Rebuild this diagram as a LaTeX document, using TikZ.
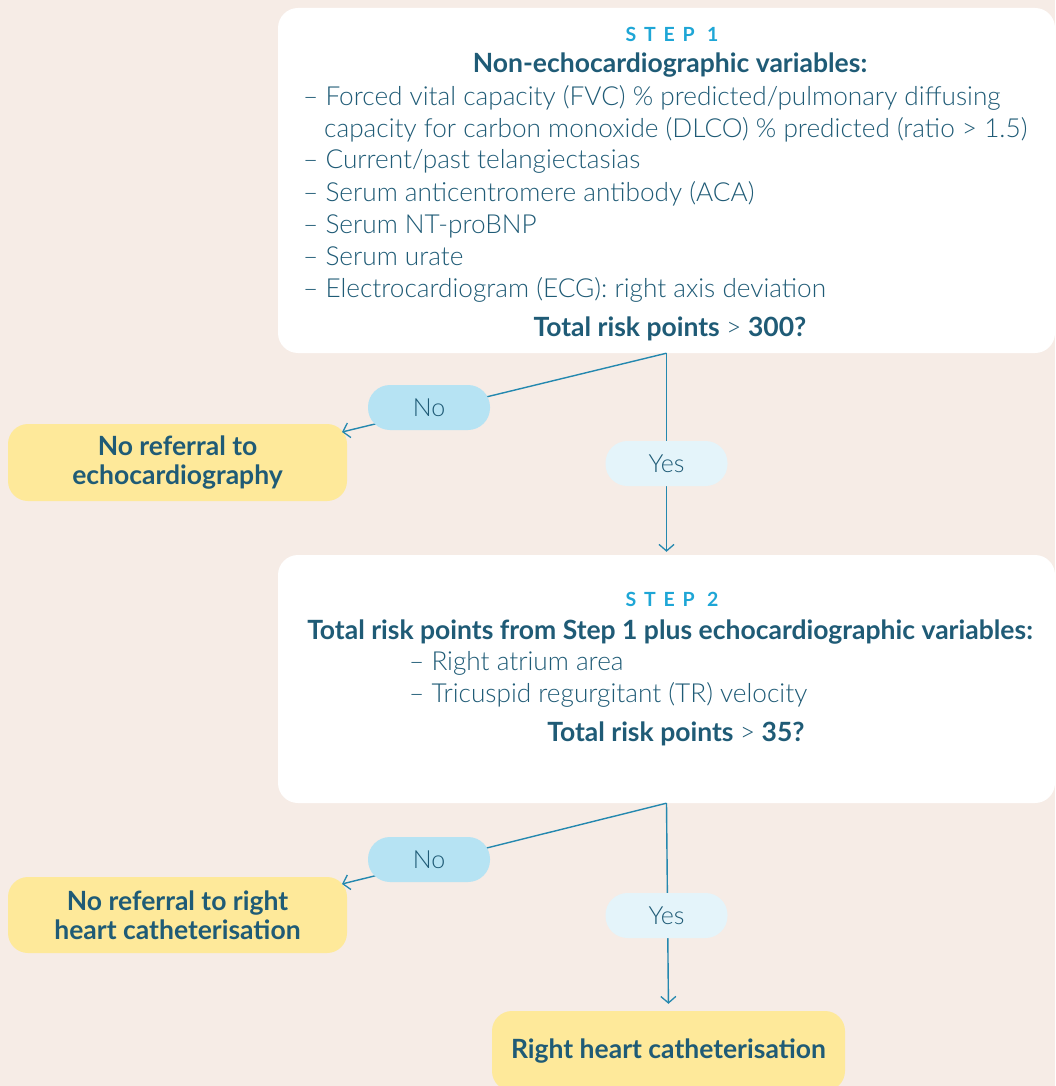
\documentclass[tikz,border=0pt]{standalone}
\usepackage{fontspec}
\setmainfont{Lato Light}[BoldFont=Lato Bold]
\usetikzlibrary{arrows.meta}
\definecolor{bg}{HTML}{F6ECE6}
\definecolor{txt}{HTML}{1F5B76}
\definecolor{stepc}{HTML}{1EA6D6}
\definecolor{linec}{HTML}{2488AF}
\definecolor{nofill}{HTML}{B6E3F3}
\definecolor{yesfill}{HTML}{E4F4FA}
\definecolor{yel}{HTML}{FEE99A}
\tikzset{
  panel/.style={fill=white, rounded corners=20pt, draw=none, inner sep=0pt},
  pill/.style={rounded corners=22pt, draw=none, minimum width=122pt, minimum height=45pt, inner sep=0pt, text=txt, font=\fontsize{25}{28}\selectfont},
  nopill/.style={pill, fill=nofill},
  yespill/.style={pill, fill=yesfill},
  outbox/.style={fill=yel, rounded corners=20pt, draw=none, inner sep=0pt, text=txt, align=center, font=\bfseries\fontsize{26.5}{29.5}\selectfont},
  steplbl/.style={text=stepc, font=\bfseries\fontsize{19.5}{22}\selectfont\addfontfeature{LetterSpace=40}, inner sep=0pt},
  head/.style={text=txt, font=\bfseries\fontsize{26.5}{29}\selectfont, inner sep=0pt},
  item/.style={text=txt, font=\fontsize{26.2}{29}\selectfont, inner sep=0pt, anchor=base west},
  conn/.style={draw=linec, line width=1.4pt, -{Straight Barb[length=6.5pt,width=15pt,line width=1.3pt]}}
}
\begin{document}
\begin{tikzpicture}[x=1pt,y=-1pt]
\useasboundingbox (0,0) rectangle (1055,1086);
\clip (0,0) rectangle (1055,1086);
\fill[bg] (0,0) rectangle (1055,1086);

% Step 1 panel
\node[panel, minimum width=777pt, minimum height=345pt] (s1) at (666.5,180.5) {};
\node[steplbl] (s1lbl) at (672,34) {STEP 1};
\node[head, anchor=base] (s1head) at (670,73) {Non-echocardiographic variables:};
\node[item] (i1) at (303,106) {– Forced vital capacity (FVC) \% predicted/pulmonary diffusing};
\node[item] (i1b) at (324,138) {capacity for carbon monoxide (DLCO) \% predicted (ratio > 1.5)};
\node[item] (i2) at (303,169) {– Current/past telangiectasias};
\node[item] (i3) at (303,201) {– Serum anticentromere antibody (ACA)};
\node[item] (i4) at (303,233) {– Serum NT-proBNP};
\node[item] (i5) at (303,265) {– Serum urate};
\node[item] (i6) at (303,297) {– Electrocardiogram (ECG): right axis deviation};
\node[head, anchor=base] (s1q) at (670,336) {Total risk points \textmd{>} 300?};

% Step 2 panel
\node[panel, minimum width=777pt, minimum height=248pt] (s2) at (666.5,679) {};
\node[steplbl] (s2lbl) at (672,599) {STEP 2};
\node[head, anchor=base] (s2head) at (670,639) {Total risk points from Step 1 plus echocardiographic variables:};
\node[item] (j1) at (409,670) {– Right atrium area};
\node[item] (j2) at (409,702) {– Tricuspid regurgitant (TR) velocity};
\node[head, anchor=base] (s2q) at (676,741) {Total risk points \textmd{>} 35?};

% outcome boxes
\node[outbox, minimum width=339pt, minimum height=77pt] (o1) at (177.5,462.5) {No referral to\\echocardiography};
\node[outbox, minimum width=339pt, minimum height=76pt] (o2) at (177.5,915) {No referral to right\\heart catheterisation};
\node[outbox, minimum width=353pt, minimum height=80pt] (o3) at (668.5,1051) {Right heart catheterisation};

% connector end points
\coordinate (e1) at (342,432);
\coordinate (e2) at (342,884);

% connectors
\draw[conn] (s1.south) -- (e1);
\draw[conn, shorten >=3pt] (s1.south) -- (s2.north);
\draw[conn] (s2.south) -- (e2);
\draw[conn, shorten >=7pt] (s2.south) -- (o3.north);

% pills
\node[nopill] (no1) at (429,407.5) {No};
\node[yespill] (yes1) at (666.5,463.5) {Yes};
\node[nopill] (no2) at (429,859.5) {No};
\node[yespill] (yes2) at (666.5,915.5) {Yes};
\end{tikzpicture}
\end{document}
